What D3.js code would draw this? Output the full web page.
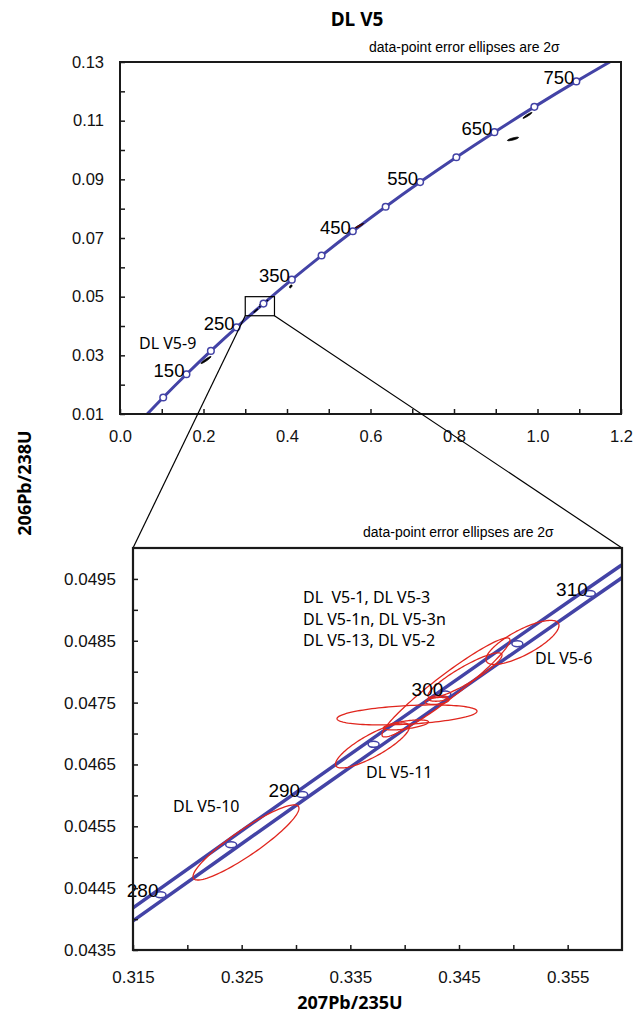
<!DOCTYPE html>
<html><head><meta charset="utf-8">
<script src="https://cdn.jsdelivr.net/npm/d3@7"></script>
<style>
html,body{margin:0;padding:0;background:#fff;}
svg{display:block;}
</style></head><body>
<svg id="chart" width="644" height="1015"></svg>
<script>
// ---------- DATA ----------
// Concordia points (top chart), ages in Ma
const concAges = [50,100,150,200,250,300,350,400,450,500,550,600,650,700,750,800];
const concX = [0.050475,0.103498,0.159197,0.217708,0.279171,0.343738,0.411563,0.482812,0.557657,0.636279,0.718871,0.805631,0.896770,0.992510,1.093082,1.198730];
const concY = [0.007786,0.015633,0.023542,0.031511,0.039543,0.047637,0.055795,0.064016,0.072300,0.080650,0.089064,0.097544,0.106090,0.114702,0.123382,0.132129];
const markerAges = [100,150,200,250,300,350,400,450,500,550,600,650,700,750];
const labelAges = [150,250,350,450,550,650,750];

// Concordia band (bottom chart)
const bandAges = [275,280,285,290,295,300,305,310,315];
const bandX = [0.311057,0.317529,0.324033,0.330569,0.337140,0.343738,0.350371,0.357037,0.363736];
const bandY = [0.0435824,0.0443921,0.0452025,0.0460135,0.0468251,0.0476374,0.0484503,0.0492638,0.0500779];
const bandYUpper = [0.0436874,0.0444971,0.0453075,0.0461185,0.0469301,0.0477424,0.0485553,0.0493688,0.0501829];
const bandYLower = [0.0434774,0.0442871,0.0450975,0.0459085,0.0467201,0.0475324,0.0483453,0.0491588,0.0499729];
const bandMarkerAges = [280,285,290,295,300,305,310];
const bandLabelAges = [280,290,300,310];

// Data-point error ellipses (2 sigma): centre, half-extent in x and y, correlation
const ellNames = ["DL V5-10","DL V5-11","DL V5-a","DL V5-b","DL V5-c","DL V5-d","DL V5-6","DL V5-e","DL V5-f"];
const ellX   = [0.325398,0.337039,0.340214,0.340122,0.343803,0.345551,0.350843,0.342975,0.343067];
const ellY   = [0.0452386,0.0468075,0.0473008,0.0471390,0.0477455,0.0479407,0.0484733,0.0475272,0.0475676];
const ellEx  = [0.004877,0.003405,0.006442,0.002070,0.005890,0.003405,0.003359,0.001104,0.000920];
const ellEy  = [0.000607,0.000364,0.000162,0.0000809,0.000801,0.000364,0.000356,0.0000566,0.0000453];
const ellRho = [0.91,0.83,0.37,0.6,0.955,0.9,0.77,0.3,0.2];

// Extra ellipses only visible on the overview
const topEllNames = ["DL V5-9","p350","p450","p650a","p650b"];
const topEllX   = [0.206,0.409,0.5725,0.976,0.9413];
const topEllY   = [0.0284,0.0535,0.0741,0.1118,0.10376];
const topEllEx  = [0.012,0.003,0.0108,0.0108,0.0132];
const topEllEy  = [0.0012,0.0005,0.00085,0.0010,0.0006];
const topEllRho = [0.95,0.5,0.95,0.95,0.8];

// Axis ticks
const topXTicks = [0.0,0.2,0.4,0.6,0.8,1.0,1.2];
const topXMinor = [0.1,0.3,0.5,0.7,0.9,1.1];
const topYTicks = [0.01,0.03,0.05,0.07,0.09,0.11,0.13];
const topYMinor = [0.02,0.04,0.06,0.08,0.10,0.12];
const botXTicks = [0.315,0.325,0.335,0.345,0.355];
const botXMinor = [0.320,0.330,0.340,0.350];
const botYTicks = [0.0435,0.0445,0.0455,0.0465,0.0475,0.0485,0.0495];
const botYMinor = [0.0440,0.0450,0.0460,0.0470,0.0480,0.0490];

// Zoom box (in overview coordinates)
const zoomBoxX = [0.30,0.37];
const zoomBoxY = [0.0435,0.050];

// Text
const title = "DL V5";
const noteText = "data-point error ellipses are 2σ";
const yTitle = "206Pb/238U";
const xTitle = "207Pb/235U";
const groupLabel = ["DL  V5-1, DL V5-3","DL V5-1n, DL V5-3n","DL V5-13, DL V5-2"];

// ---------- DRAW ----------
const svg = d3.select("#chart");
const BLUE = "#4343a6", RED = "#e0261e", AX = "#1a1a1a";
const tickFont = "'Liberation Sans', Arial, sans-serif";
const lblFont = "'Noto Sans', 'Open Sans', sans-serif";

const xT = d3.scaleLinear().domain([0,1.2]).range([120,621]);
const yT = d3.scaleLinear().domain([0.01,0.13]).range([414,62]);
const xB = d3.scaleLinear().domain([0.315,0.36]).range([133,622]);
const yB = d3.scaleLinear().domain([0.0435,0.050]).range([950,548]);

const defs = svg.append("defs");
defs.append("clipPath").attr("id","clipT").append("rect")
  .attr("x",xT(0)).attr("y",yT(0.13)).attr("width",xT(1.2)-xT(0)).attr("height",yT(0.01)-yT(0.13));
defs.append("clipPath").attr("id","clipB").append("rect")
  .attr("x",xB(0.315)).attr("y",yB(0.05)).attr("width",xB(0.36)-xB(0.315)).attr("height",yB(0.0435)-yB(0.05));

function ellPath(xs, ys, cx, cy, ex, ey, rho){
  const n = 120, s = Math.sqrt(1-rho*rho), pts = [];
  for (let i=0;i<n;i++){
    const t = 2*Math.PI*i/n;
    pts.push([xs(cx+ex*Math.cos(t)), ys(cy+ey*(rho*Math.cos(t)+s*Math.sin(t)))]);
  }
  return d3.line().curve(d3.curveLinearClosed)(pts);
}

// Title
svg.append("text").attr("x",357).attr("y",26).attr("text-anchor","middle")
  .style("font-family",lblFont).style("font-weight","bold").style("font-size","19px").text(title);

// Notes
svg.append("text").attr("x",369).attr("y",52).style("font-family",tickFont).style("font-size","14px").text(noteText);
svg.append("text").attr("x",363).attr("y",537).style("font-family",tickFont).style("font-size","14px").text(noteText);

// ===== TOP CHART =====
const gT = svg.append("g");
const plotT = gT.append("g").attr("clip-path","url(#clipT)");
const concPts = concAges.map((a,i)=>[concX[i],concY[i]]);
plotT.append("path").attr("d", d3.line().x(d=>xT(d[0])).y(d=>yT(d[1])).curve(d3.curveCatmullRom)(concPts))
  .attr("fill","none").attr("stroke",BLUE).attr("stroke-width",3);

// ellipses on overview (black)
ellX.forEach((v,i)=>{
  plotT.append("path").attr("d",ellPath(xT,yT,ellX[i],ellY[i],ellEx[i],ellEy[i],ellRho[i]))
    .attr("fill","#000").attr("stroke","#000").attr("stroke-width",0.8);
});
topEllX.forEach((v,i)=>{
  plotT.append("path").attr("d",ellPath(xT,yT,topEllX[i],topEllY[i],topEllEx[i],topEllEy[i],topEllRho[i]))
    .attr("fill", i===2 ? "#b01010" : "#000").attr("stroke","#000").attr("stroke-width",1);
});

// markers
markerAges.forEach(a=>{
  const i = concAges.indexOf(a);
  plotT.append("circle").attr("cx",xT(concX[i])).attr("cy",yT(concY[i])).attr("r",3.3)
    .attr("fill","#fff").attr("stroke",BLUE).attr("stroke-width",1.5);
});
labelAges.forEach(a=>{
  const i = concAges.indexOf(a);
  gT.append("text").attr("x",xT(concX[i])-2).attr("y",yT(concY[i])+2.5).attr("text-anchor","end")
    .style("font-family",tickFont).style("font-size","18.5px").text(a);
});
gT.append("text").attr("x",139).attr("y",349).style("font-family",lblFont).style("font-size","16px").text("DL V5-9");

// zoom box
gT.append("rect").attr("x",xT(zoomBoxX[0])).attr("y",yT(zoomBoxY[1]))
  .attr("width",xT(zoomBoxX[1])-xT(zoomBoxX[0])).attr("height",yT(zoomBoxY[0])-yT(zoomBoxY[1]))
  .attr("fill","none").attr("stroke","#000").attr("stroke-width",1.2);

// frame + axes
gT.append("rect").attr("x",xT(0)).attr("y",yT(0.13)).attr("width",xT(1.2)-xT(0)).attr("height",yT(0.01)-yT(0.13))
  .attr("fill","none").attr("stroke",AX).attr("stroke-width",2);
function styleAxis(g, fs){
  g.select(".domain").remove();
  g.selectAll(".tick line").attr("stroke",AX).attr("stroke-width",1.5);
  g.selectAll(".tick text").style("font-family",tickFont).style("font-size",fs).attr("fill","#111");
}
gT.append("g").attr("transform",`translate(0,${yT(0.01)})`)
  .call(d3.axisBottom(xT).tickValues(topXTicks).tickFormat(d3.format(".1f")).tickSize(-5).tickSizeOuter(0).tickPadding(16))
  .call(g=>styleAxis(g,"16.5px"));
gT.append("g").attr("transform",`translate(0,${yT(0.01)})`)
  .call(d3.axisBottom(xT).tickValues(topXMinor).tickFormat("").tickSize(-5).tickSizeOuter(0))
  .call(g=>styleAxis(g,"16.5px"));
gT.append("g").attr("transform",`translate(${xT(0)},0)`)
  .call(d3.axisLeft(yT).tickValues(topYTicks).tickFormat(d3.format(".2f")).tickSize(-5).tickSizeOuter(0).tickPadding(16))
  .call(g=>styleAxis(g,"16.5px"));
gT.append("g").attr("transform",`translate(${xT(0)},0)`)
  .call(d3.axisLeft(yT).tickValues(topYMinor).tickFormat("").tickSize(-5).tickSizeOuter(0))
  .call(g=>styleAxis(g,"16.5px"));

// connectors
svg.append("line").attr("x1",xT(zoomBoxX[0])).attr("y1",yT(zoomBoxY[0])).attr("x2",xB(0.315)).attr("y2",yB(0.050))
  .attr("stroke","#000").attr("stroke-width",1.2);
svg.append("line").attr("x1",xT(zoomBoxX[1])).attr("y1",yT(zoomBoxY[0])).attr("x2",xB(0.36)).attr("y2",yB(0.050))
  .attr("stroke","#000").attr("stroke-width",1.2);

// ===== BOTTOM CHART =====
const gB = svg.append("g");
const plotB = gB.append("g").attr("clip-path","url(#clipB)");
const lineB = d3.line().x(d=>xB(d[0])).y(d=>yB(d[1])).curve(d3.curveCatmullRom);
plotB.append("path").attr("d",lineB(bandX.map((x,i)=>[x,bandYUpper[i]])))
  .attr("fill","none").attr("stroke",BLUE).attr("stroke-width",3.5);
plotB.append("path").attr("d",lineB(bandX.map((x,i)=>[x,bandYLower[i]])))
  .attr("fill","none").attr("stroke",BLUE).attr("stroke-width",3.5);
bandMarkerAges.forEach(a=>{
  const i = bandAges.indexOf(a);
  plotB.append("ellipse").attr("cx",xB(bandX[i])).attr("cy",yB(bandY[i])).attr("rx",5.5).attr("ry",3)
    .attr("fill","#fff").attr("stroke",BLUE).attr("stroke-width",1.5);
});
ellX.forEach((v,i)=>{
  plotB.append("path").attr("d",ellPath(xB,yB,ellX[i],ellY[i],ellEx[i],ellEy[i],ellRho[i]))
    .attr("fill","none").attr("stroke",RED).attr("stroke-width",1.3);
});
bandLabelAges.forEach(a=>{
  const i = bandAges.indexOf(a);
  gB.append("text").attr("x",xB(bandX[i])-2).attr("y",yB(bandY[i])+2).attr("text-anchor","end")
    .style("font-family",tickFont).style("font-size","19px").text(a);
});
groupLabel.forEach((t,k)=>{
  gB.append("text").attr("x",303).attr("y",603+k*21.5).attr("xml:space","preserve")
    .style("white-space","pre").style("font-family",lblFont).style("font-size","16px").text(t);
});
gB.append("text").attr("x",535).attr("y",664).style("font-family",lblFont).style("font-size","16px").text("DL V5-6");
gB.append("text").attr("x",366).attr("y",778).style("font-family",lblFont).style("font-size","16px").text("DL V5-11");
gB.append("text").attr("x",173).attr("y",812).style("font-family",lblFont).style("font-size","16px").text("DL V5-10");

gB.append("rect").attr("x",xB(0.315)).attr("y",yB(0.05)).attr("width",xB(0.36)-xB(0.315)).attr("height",yB(0.0435)-yB(0.05))
  .attr("fill","none").attr("stroke",AX).attr("stroke-width",2.2);
gB.append("g").attr("transform",`translate(0,${yB(0.0435)})`)
  .call(d3.axisBottom(xB).tickValues(botXTicks).tickFormat(d3.format(".3f")).tickSize(-5).tickSizeOuter(0).tickPadding(21))
  .call(g=>styleAxis(g,"17px"));
gB.append("g").attr("transform",`translate(0,${yB(0.0435)})`)
  .call(d3.axisBottom(xB).tickValues(botXMinor).tickFormat("").tickSize(-5).tickSizeOuter(0))
  .call(g=>styleAxis(g,"17px"));
gB.append("g").attr("transform",`translate(${xB(0.315)},0)`)
  .call(d3.axisLeft(yB).tickValues(botYTicks).tickFormat(d3.format(".4f")).tickSize(-5).tickSizeOuter(0).tickPadding(17))
  .call(g=>styleAxis(g,"17px"));
gB.append("g").attr("transform",`translate(${xB(0.315)},0)`)
  .call(d3.axisLeft(yB).tickValues(botYMinor).tickFormat("").tickSize(-5).tickSizeOuter(0))
  .call(g=>styleAxis(g,"17px"));

// Axis titles
svg.append("text").attr("transform","translate(31,483) rotate(-90)").attr("text-anchor","middle")
  .style("font-family",lblFont).style("font-weight","bold").style("font-size","18px").text(yTitle);
svg.append("text").attr("x",350).attr("y",1009).attr("text-anchor","middle")
  .style("font-family",lblFont).style("font-weight","bold").style("font-size","18px").text(xTitle);
</script>
</body></html>
